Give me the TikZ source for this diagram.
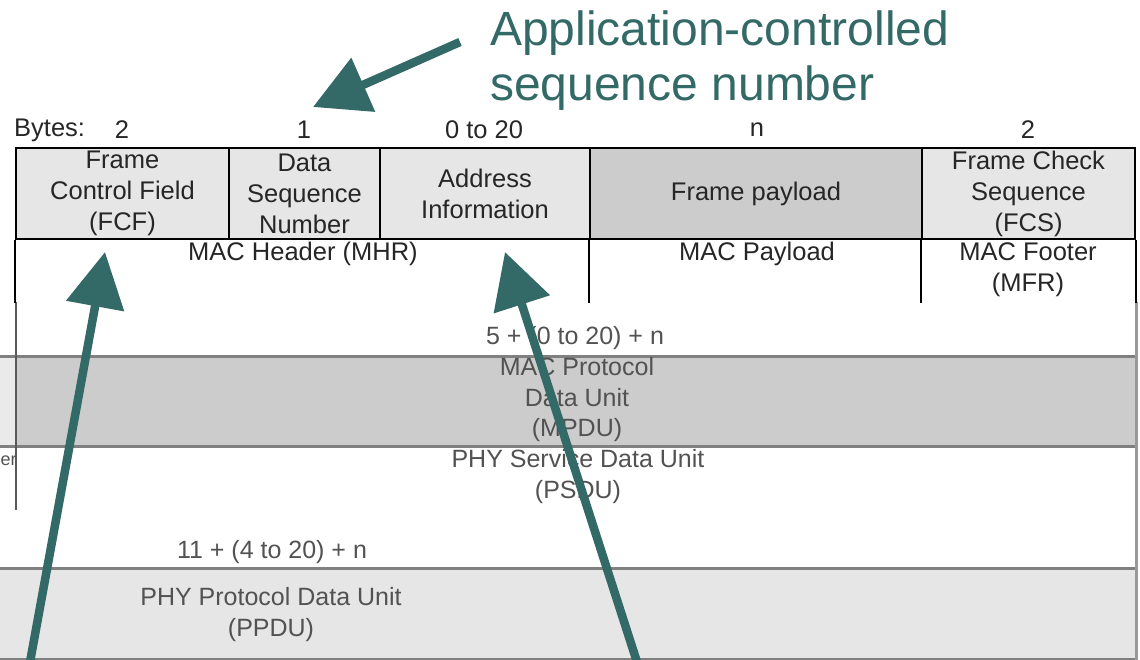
\documentclass[tikz,border=0pt]{standalone}
\usepackage{fontspec}
\setmainfont{Liberation Sans}
\usetikzlibrary{arrows.meta}
\definecolor{teal1}{HTML}{336966}
\definecolor{lg}{HTML}{E6E6E6}
\definecolor{mg}{HTML}{CCCCCC}
\definecolor{bandline}{HTML}{808080}
\begin{document}
\begin{tikzpicture}[x=1pt,y=-1pt,
  cell/.style={draw=black, line width=1.8pt, inner sep=0pt, align=center,
    font=\fontsize{25.5}{31}\selectfont, text=black!85, minimum height=91pt},
  lbl/.style={inner sep=0pt, align=center, font=\fontsize{25.5}{31}\selectfont, text=black!85},
  low/.style={inner sep=0pt, align=center, font=\fontsize{25}{30.5}\selectfont, text=black!68},
  rowline/.style={draw=black, line width=1.8pt},
  band/.style={draw=bandline, line width=3pt},
  callout/.style={draw=teal1, line width=8.5pt, -{Triangle[length=55pt,width=57pt]}},
]
\useasboundingbox (0,0) rectangle (1140,660);

% ---------- lower (PPDU) part ----------
\fill[lg!85] (0,358) rectangle (16,445);
\fill[mg] (16,358) rectangle (1136,445);
\draw[band] (0,356.5) -- (1136,356.5);
\draw[band] (0,446) -- (1136,446);
\fill[lg] (0,570) rectangle (1136,660);
\draw[band] (0,568.5) -- (1136,568.5);
\draw[draw=bandline, line width=1.5pt] (0,659) -- (1136,659);
\draw[draw=black!65, line width=2pt] (16,302) -- (16,510);
\draw[draw=black!40, line width=3pt] (1136.5,302) -- (1136.5,660);

\node[low] (len1) at (575,338) {5 + (0 to 20) + n};
\node[low] (mpdu) at (577,400) {MAC Protocol\\Data Unit\\(MPDU)};
\node[low] (psdu) at (578,476.5) {PHY Service Data Unit\\(PSDU)};
\node[low, anchor=west, font=\fontsize{18}{20}\selectfont] (phyhdr) at (0.5,461) {er};
\node[low] (len2) at (272,552) {11 + (4 to 20) + n};
\node[low] (ppdu) at (271,614.5) {PHY Protocol Data Unit\\(PPDU)};

% ---------- MAC frame table ----------
\node[lbl, anchor=west] (bytes) at (14,130) {Bytes:};
\node[lbl] (b1) at (122,130) {2};
\node[lbl] (b2) at (304,130) {1};
\node[lbl] (b3) at (484,130) {0 to 20};
\node[lbl] (b4) at (757,130) {n};
\node[lbl] (b5) at (1028,130) {2};

\node[cell, fill=lg, minimum width=213pt] (fcf) at (122.5,193.5) {Frame\\Control Field\\(FCF)};
\node[cell, fill=lg, minimum width=151pt] (dsn) at (304.5,193.5) {Data\\Sequence\\Number};
\node[cell, fill=lg, minimum width=210pt] (addr) at (485,193.5) {Address\\Information};
\node[cell, fill=mg, minimum width=332pt] (pay) at (756,193.5) {Frame payload};
\node[cell, fill=lg, minimum width=213pt] (fcs) at (1028.5,193.5) {Frame Check\\Sequence\\(FCS)};

\draw[rowline] (fcf.south west) -- ++(0,63);
\draw[rowline] (pay.south west) -- ++(0,63);
\draw[rowline] (fcs.south west) -- ++(0,63);
\draw[rowline] (fcs.south east) -- ++(0,63);

\node[lbl] (mhr) at (303,254) {MAC Header (MHR)};
\node[lbl] (macpay) at (757,254) {MAC Payload};
\node[lbl] (mfr) at (1028,269.5) {MAC Footer\\(MFR)};

% ---------- callouts ----------
\node[anchor=base west, inner sep=0pt, text=teal1, font=\fontsize{48}{55}\selectfont] (title1) at (490,46) {Application-controlled};
\node[anchor=base west, inner sep=0pt, text=teal1, font=\fontsize{48}{55}\selectfont] (title2) at (490,101) {sequence number};

\coordinate (a1s) at (460,42);
\coordinate (a1e) at (313,107);
\coordinate (a2s) at (30,662);
\coordinate (a2e) at (105,252);
\coordinate (a3s) at (637,662);
\coordinate (a3e) at (505,252);
\draw[callout] (a1s) -- (a1e);
\draw[callout] (a2s) -- (a2e);
\draw[callout] (a3s) -- (a3e);
\end{tikzpicture}
\end{document}
